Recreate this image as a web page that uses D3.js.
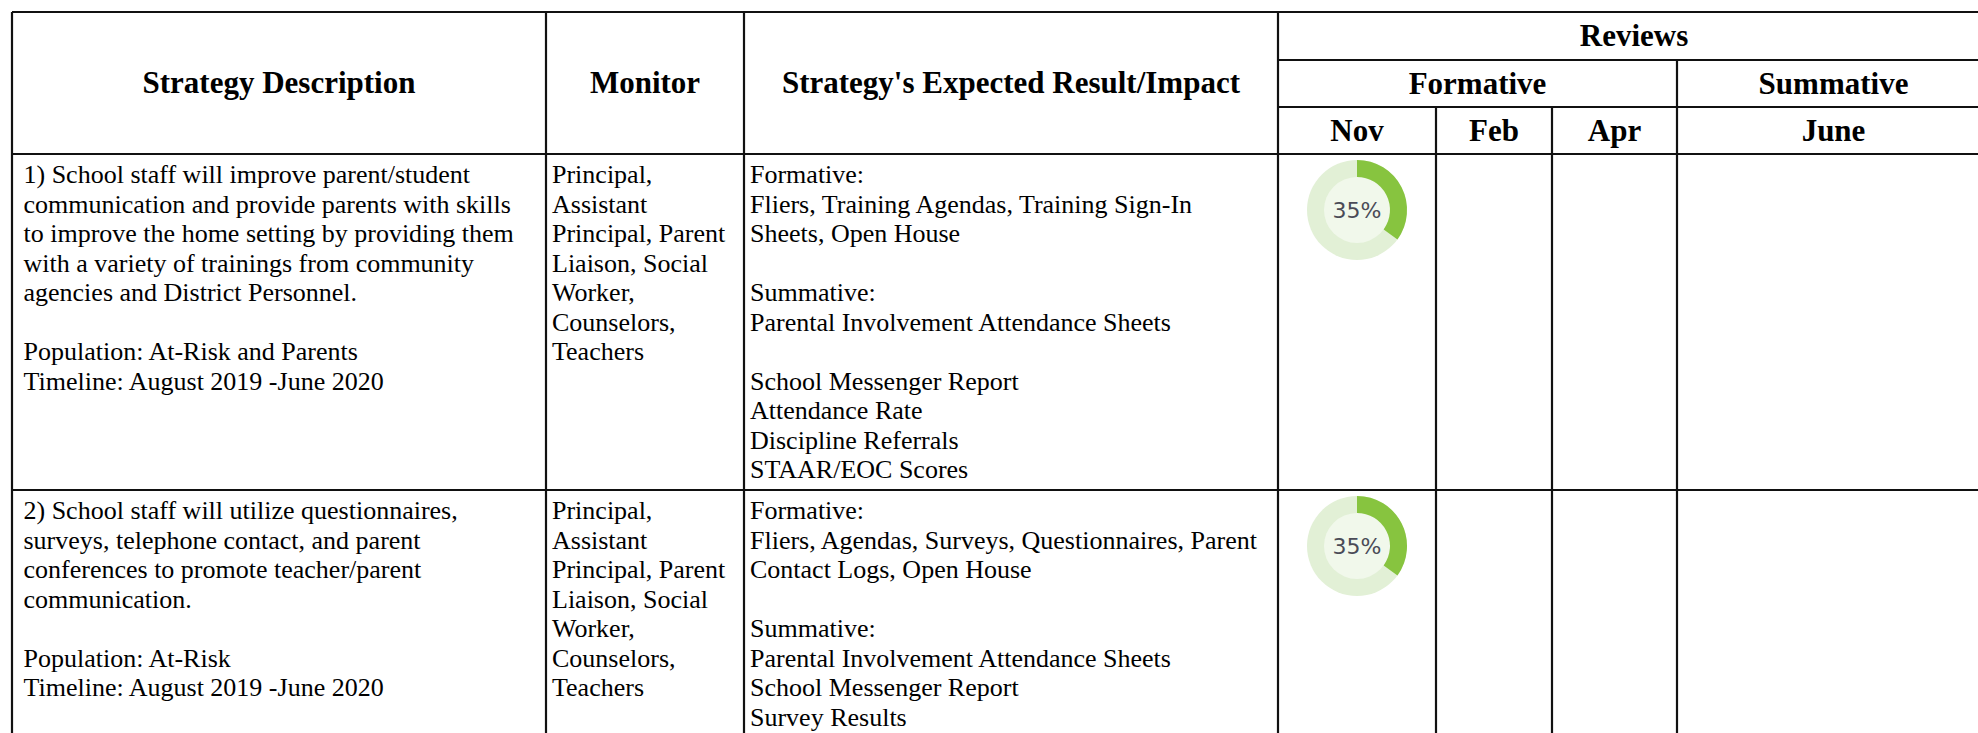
<!DOCTYPE html>
<html>
<head>
<meta charset="utf-8">
<script src="https://cdn.jsdelivr.net/npm/d3@7"></script>
<style>
  html, body { margin: 0; padding: 0; background: #fff; }
  svg { display: block; }
</style>
</head>
<body>
<script>
// ---------- data ----------
const columnHeaders = ["Strategy Description", "Monitor", "Strategy's Expected Result/Impact"];
const reviewsHeader = "Reviews";
const reviewGroups = ["Formative", "Summative"];
const reviewMonths = ["Nov", "Feb", "Apr", "June"];

const strategyLines = [
  ["1) School staff will improve parent/student",
   "communication and provide parents with skills",
   "to improve the home setting by providing them",
   "with a variety of trainings from community",
   "agencies and District Personnel.",
   "",
   "Population: At-Risk and Parents",
   "Timeline: August 2019 -June 2020"],
  ["2) School staff will utilize questionnaires,",
   "surveys, telephone contact, and parent",
   "conferences to promote teacher/parent",
   "communication.",
   "",
   "Population: At-Risk",
   "Timeline: August 2019 -June 2020"]
];
const monitorLines = [
  ["Principal,", "Assistant", "Principal, Parent", "Liaison, Social", "Worker,", "Counselors,", "Teachers"],
  ["Principal,", "Assistant", "Principal, Parent", "Liaison, Social", "Worker,", "Counselors,", "Teachers"]
];
const expectedLines = [
  ["Formative:",
   "Fliers, Training Agendas, Training Sign-In",
   "Sheets, Open House",
   "",
   "Summative:",
   "Parental Involvement Attendance Sheets",
   "",
   "School Messenger Report",
   "Attendance Rate",
   "Discipline Referrals",
   "STAAR/EOC Scores"],
  ["Formative:",
   "Fliers, Agendas, Surveys, Questionnaires, Parent",
   "Contact Logs, Open House",
   "",
   "Summative:",
   "Parental Involvement Attendance Sheets",
   "School Messenger Report",
   "Survey Results"]
];
// progress (%) per review month, null = not reviewed
const novProgress = [35, 35];
const febProgress = [null, null];
const aprProgress = [null, null];
const juneProgress = [null, null];

// ---------- layout ----------
const W = 1978, H = 733;
const colEdges = [12, 546, 744, 1278, 1436, 1552, 1677, 1990];
const headTop = 12, headMid1 = 60, headMid2 = 107, headBottom = 154;
const rowEdges = [154, 490, 830];
const lineH = 29.5;
const bodyFont = "'Liberation Serif', 'Times New Roman', serif";
const lineColor = "#111";

const svg = d3.select("body").append("svg").attr("width", W).attr("height", H);

// ---------- grid lines ----------
const gridLines = [
  {x1: colEdges[0], x2: colEdges[7], y1: headTop, y2: headTop},
  {x1: colEdges[3], x2: colEdges[7], y1: headMid1, y2: headMid1},
  {x1: colEdges[3], x2: colEdges[7], y1: headMid2, y2: headMid2},
  {x1: colEdges[0], x2: colEdges[7], y1: headBottom, y2: headBottom},
  {x1: colEdges[0], x2: colEdges[7], y1: rowEdges[1], y2: rowEdges[1]},
  {x1: colEdges[0], x2: colEdges[0], y1: headTop, y2: H + 10},
  {x1: colEdges[1], x2: colEdges[1], y1: headTop, y2: H + 10},
  {x1: colEdges[2], x2: colEdges[2], y1: headTop, y2: H + 10},
  {x1: colEdges[3], x2: colEdges[3], y1: headTop, y2: H + 10},
  {x1: colEdges[4], x2: colEdges[4], y1: headMid2, y2: H + 10},
  {x1: colEdges[5], x2: colEdges[5], y1: headMid2, y2: H + 10},
  {x1: colEdges[6], x2: colEdges[6], y1: headMid1, y2: H + 10}
];
svg.append("g").selectAll("line").data(gridLines).join("line")
  .attr("x1", d => d.x1).attr("x2", d => d.x2)
  .attr("y1", d => d.y1).attr("y2", d => d.y2)
  .attr("stroke", lineColor).attr("stroke-width", 2.2);

// ---------- header text ----------
const hdr = svg.append("g")
  .attr("font-family", bodyFont).attr("font-weight", "bold")
  .attr("font-size", 31).attr("fill", "#000").attr("text-anchor", "middle");

const capOff = 10;
hdr.selectAll("text.col").data(columnHeaders).join("text").attr("class", "col")
  .attr("x", (d, i) => (colEdges[i] + colEdges[i + 1]) / 2)
  .attr("y", (headTop + headBottom) / 2 + capOff)
  .text(d => d);
hdr.append("text")
  .attr("x", (colEdges[3] + colEdges[7]) / 2)
  .attr("y", (headTop + headMid1) / 2 + capOff)
  .text(reviewsHeader);
const groupSpans = [[3, 6], [6, 7]];
hdr.selectAll("text.grp").data(reviewGroups).join("text").attr("class", "grp")
  .attr("x", (d, i) => (colEdges[groupSpans[i][0]] + colEdges[groupSpans[i][1]]) / 2)
  .attr("y", (headMid1 + headMid2) / 2 + capOff)
  .text(d => d);
hdr.selectAll("text.mon").data(reviewMonths).join("text").attr("class", "mon")
  .attr("x", (d, i) => (colEdges[3 + i] + colEdges[4 + i]) / 2)
  .attr("y", (headMid2 + headBottom) / 2 + capOff)
  .text(d => d);

// ---------- body text ----------
const textX = [23.5, 552, 750];
const bodyCols = [strategyLines, monitorLines, expectedLines];
const body = svg.append("g").attr("font-family", bodyFont).attr("font-size", 26).attr("fill", "#000");
bodyCols.forEach((col, ci) => {
  col.forEach((lines, ri) => {
    body.append("g").selectAll("text").data(lines).join("text")
      .attr("x", textX[ci])
      .attr("y", (d, li) => rowEdges[ri] + 29 + li * lineH)
      .text(d => d);
  });
});

// ---------- progress donuts ----------
const progressByMonth = [novProgress, febProgress, aprProgress, juneProgress];
const angle = d3.scaleLinear().domain([0, 100]).range([0, 2 * Math.PI]);
const rOuter = 50, rInner = 33;
const ring = d3.arc().innerRadius(rInner).outerRadius(rOuter).startAngle(0);
progressByMonth.forEach((vals, mi) => {
  const cx = (colEdges[3 + mi] + colEdges[4 + mi]) / 2;
  vals.forEach((v, ri) => {
    if (v == null) return;
    const g = svg.append("g").attr("transform", `translate(${cx},${rowEdges[ri] + 56})`);
    g.append("circle").attr("r", rOuter).attr("fill", "#e2f0d6");
    g.append("circle").attr("r", rInner).attr("fill", "#f1f8eb");
    g.append("path").attr("d", ring.endAngle(angle(v))()).attr("fill", "#87c43f");
    g.append("text")
      .attr("text-anchor", "middle").attr("dominant-baseline", "central")
      .attr("font-family", "'DejaVu Sans', Verdana, sans-serif")
      .attr("font-size", 22)
      .attr("fill", "#4a4b57")
      .text(v + "%");
  });
});
</script>
</body>
</html>
